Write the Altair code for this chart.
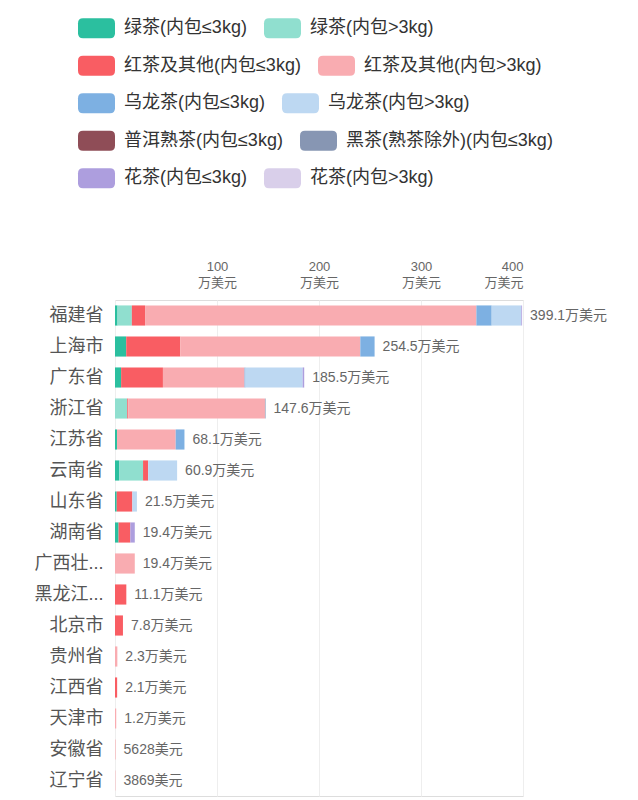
import altair as alt
import pandas as pd

provinces = ["福建省", "上海市", "广东省", "浙江省", "江苏省", "云南省", "山东省", "湖南省",
             "广西壮...", "黑龙江...", "北京市", "贵州省", "江西省", "天津市", "安徽省", "辽宁省"]

categories = ["绿茶(内包≤3kg)", "绿茶(内包>3kg)", "红茶及其他(内包≤3kg)", "红茶及其他(内包>3kg)",
              "乌龙茶(内包≤3kg)", "乌龙茶(内包>3kg)", "普洱熟茶(内包≤3kg)", "黑茶(熟茶除外)(内包≤3kg)",
              "花茶(内包≤3kg)", "花茶(内包>3kg)"]

colors = ["#2bbf9f", "#90dfcf", "#f95d63", "#f9acb1", "#7db0e2", "#bdd8f2",
          "#8f4d57", "#8796b3", "#ad9ede", "#d9cfea"]

# values in 万美元, per category, one entry per province
green_small = [2.5, 11, 6, 0, 2, 4, 1.7, 3.5, 0, 0, 0, 0, 0, 0, 0, 0]
green_large = [14, 0, 0, 12, 0, 23.5, 0, 0, 0, 0, 0, 0, 0, 0, 0, 0]
red_small = [13, 53, 41, 1, 0, 5, 15.3, 11.5, 0, 11.1, 7.8, 0, 2.1, 0, 0, 0]
red_large = [324.8, 176.5, 80, 134, 57.5, 0, 0, 0, 19.4, 0, 0, 2.3, 0, 1.2, 0.5628, 0.3869]
oolong_small = [15, 14, 1, 0, 8.6, 0, 0, 0, 0, 0, 0, 0, 0, 0, 0, 0]
oolong_large = [29, 0, 56, 0, 0, 28.4, 4.5, 0, 0, 0, 0, 0, 0, 0, 0, 0]
puer_small = [0] * 16
dark_small = [0, 0, 0, 0.6, 0, 0, 0, 0, 0, 0, 0, 0, 0, 0, 0, 0]
flower_small = [0.8, 0, 1.5, 0, 0, 0, 0, 4.4, 0, 0, 0, 0, 0, 0, 0, 0]
flower_large = [0] * 16

totals = [399.1, 254.5, 185.5, 147.6, 68.1, 60.9, 21.5, 19.4, 19.4, 11.1, 7.8, 2.3, 2.1, 1.2, 0.5628, 0.3869]

series = [green_small, green_large, red_small, red_large, oolong_small, oolong_large,
          puer_small, dark_small, flower_small, flower_large]

rows = []
for ci, (cat, vals) in enumerate(zip(categories, series)):
    for p, v in zip(provinces, vals):
        if v > 0:
            rows.append({"province": p, "category": cat, "order": ci, "value": v})
df = pd.DataFrame(rows)

def fmt(t):
    if t >= 1:
        return f"{t}万美元"
    return f"{int(round(t * 10000))}美元"

tot_df = pd.DataFrame({"province": provinces, "total": totals,
                       "label": [fmt(t) for t in totals]})

FONT = "Liberation Sans, Noto Sans CJK SC"

rounded = ("M-0.73,-0.54 L0.73,-0.54 Q1,-0.54 1,-0.27 L1,0.27 Q1,0.54 0.73,0.54 "
           "L-0.73,0.54 Q-1,0.54 -1,0.27 L-1,-0.27 Q-1,-0.54 -0.73,-0.54 Z")

yaxis = alt.Axis(labelFontSize=18, labelColor="#555555", labelPadding=12,
                 ticks=False, domain=False, labelFont=FONT, labelLimit=200)

yenc = alt.Y("province:N", sort=provinces, title=None,
             scale=alt.Scale(paddingInner=0.35, paddingOuter=0.175), axis=yaxis)

xaxis = alt.Axis(orient="top", values=[0, 100, 200, 300, 400],
                 labelExpr="datum.value == 0 ? '' : [datum.label, '万美元']",
                 labelFontSize=13, labelLineHeight=16, labelColor="#666666",
                 labelFont=FONT, labelPadding=27, ticks=False, domain=False,
                 grid=True, gridColor="#eeeeee", labelBaseline="bottom")

xscale = alt.Scale(domain=[0, 400], nice=False)

stacked = alt.Chart(df).transform_stack(
    stack="value", groupby=["province"], sort=[alt.SortField("order", order="ascending")],
    as_=["x0", "x1"],
)

layers = []
for k in range(5):
    pair = categories[2 * k: 2 * k + 2]
    pair_colors = colors[2 * k: 2 * k + 2]
    layer = stacked.transform_filter(
        alt.FieldOneOfPredicate(field="category", oneOf=pair)
    ).mark_bar().encode(
        x=alt.X("x0:Q", title=None, scale=xscale, axis=xaxis),
        x2="x1:Q",
        y=yenc,
        color=alt.Color("category:N", scale=alt.Scale(domain=pair, range=pair_colors),
                        legend=alt.Legend(title=None, orient="none", legendX=-37,
                                          legendY=-290.5 + 37.5 * k,
                                          columns=2, direction="horizontal",
                                          symbolType=rounded,
                                          symbolSize=1369, symbolStrokeWidth=0, symbolOpacity=1,
                                          labelFontSize=18, labelFont=FONT, labelColor="#333333",
                                          labelOffset=9, columnPadding=17,
                                          labelLimit=400, padding=0)),
    )
    layers.append(layer)

labels = alt.Chart(tot_df).mark_text(align="left", baseline="middle", dx=8,
                                     fontSize=14, font=FONT, color="#666666").encode(
    x=alt.X("total:Q", title=None, scale=xscale, axis=xaxis),
    y=yenc,
    text="label:N",
)

chart = alt.layer(*layers, labels).resolve_scale(color="independent").properties(
    width=408, height=496,
    autosize=alt.AutoSizeParams(type="none"),
    padding={"left": 107, "top": 292, "right": 100, "bottom": 2},
).configure_view(strokeWidth=0, stroke="transparent").configure(font=FONT)

chart.save("out.html", embed_options={"renderer": "svg", "actions": False})
